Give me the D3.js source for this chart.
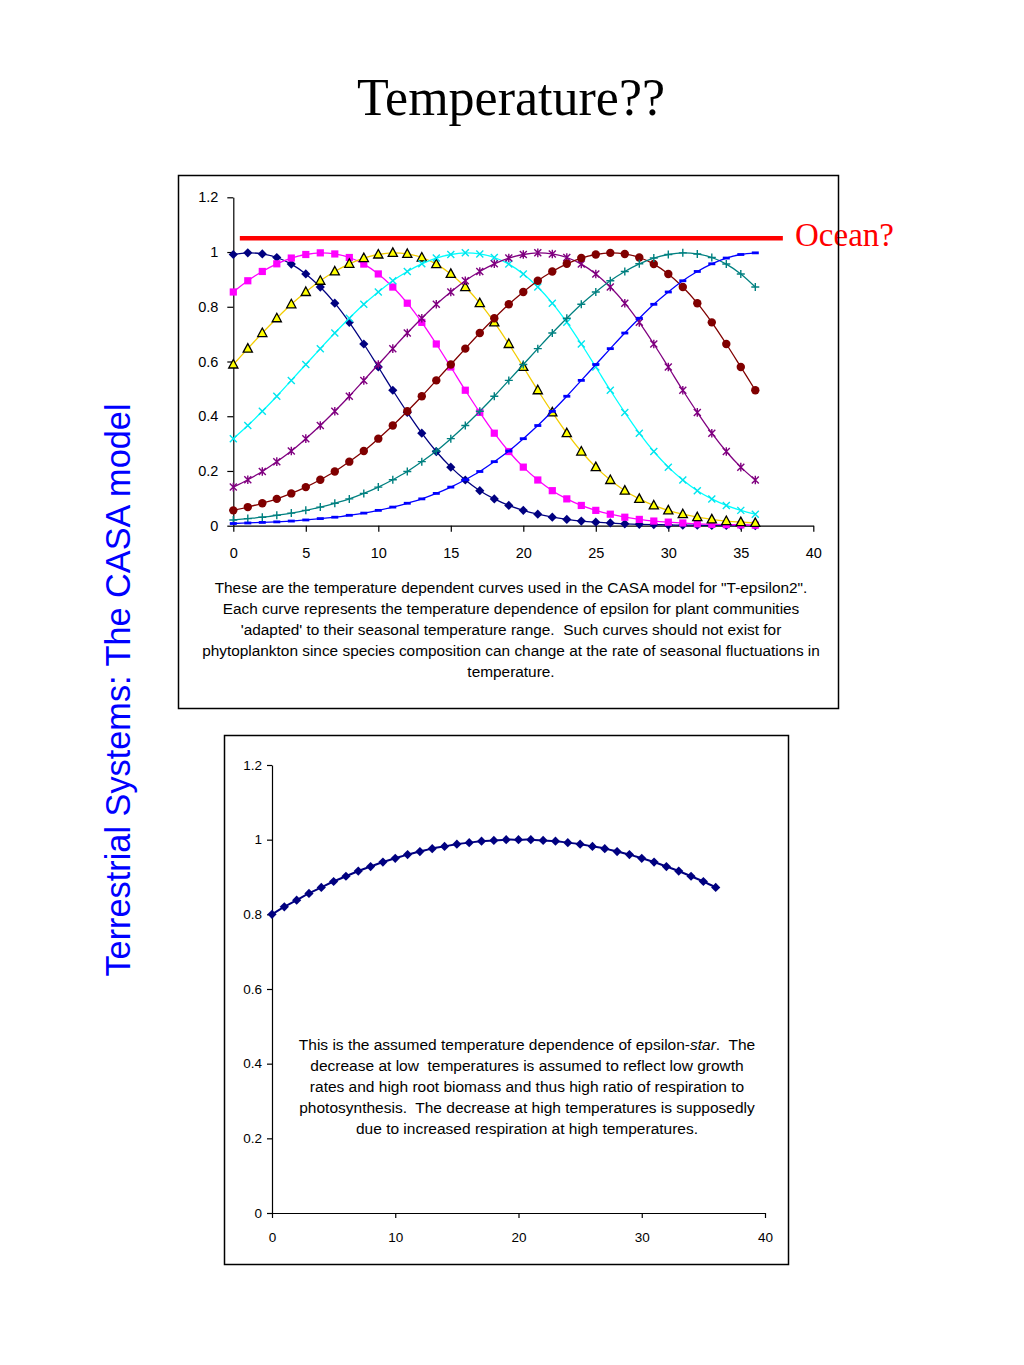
<!DOCTYPE html>
<html><head><meta charset="utf-8">
<script src="https://cdn.jsdelivr.net/npm/d3@7"></script>
<style>
body{margin:0;background:#fff}
svg{display:block}
text{white-space:pre}
</style></head>
<body>
<svg id="chart" width="1024" height="1365"></svg>
<script>
// ---------- DATA ----------
const temps = [0,1,2,3,4,5,6,7,8,9,10,11,12,13,14,15,16,17,18,19,20,21,22,23,24,25,26,27,28,29,30,31,32,33,34,35,36];
const seriesNames = ["Topt 0","Topt 5","Topt 10","Topt 15","Topt 20","Topt 25","Topt 30","Topt 35"];
const topt0  = [0.991,0.997,0.993,0.980,0.956,0.920,0.872,0.813,0.743,0.664,0.580,0.495,0.414,0.338,0.271,0.214,0.167,0.128,0.098,0.074,0.056,0.042,0.031,0.023,0.017,0.013,0.010,0.007,0.005,0.004,0.003,0.002,0.002,0.001,0.001,0.001,0.000];
const topt5  = [0.854,0.895,0.929,0.957,0.978,0.991,0.997,0.993,0.980,0.956,0.920,0.872,0.813,0.743,0.664,0.580,0.495,0.414,0.338,0.271,0.214,0.167,0.128,0.098,0.074,0.056,0.042,0.031,0.023,0.017,0.013,0.010,0.007,0.005,0.004,0.003,0.002];
const topt10 = [0.589,0.647,0.704,0.758,0.809,0.854,0.895,0.929,0.957,0.978,0.991,0.997,0.993,0.980,0.956,0.920,0.872,0.813,0.743,0.664,0.580,0.495,0.414,0.338,0.271,0.214,0.167,0.128,0.098,0.074,0.056,0.042,0.031,0.023,0.017,0.013,0.010];
const topt15 = [0.318,0.366,0.418,0.473,0.531,0.589,0.647,0.704,0.758,0.809,0.854,0.895,0.929,0.957,0.978,0.991,0.997,0.993,0.980,0.956,0.920,0.872,0.813,0.743,0.664,0.580,0.495,0.414,0.338,0.271,0.214,0.167,0.128,0.098,0.074,0.056,0.042];
const topt20 = [0.141,0.168,0.198,0.234,0.273,0.318,0.366,0.418,0.473,0.531,0.589,0.647,0.704,0.758,0.809,0.854,0.895,0.929,0.957,0.978,0.991,0.997,0.993,0.980,0.956,0.920,0.872,0.813,0.743,0.664,0.580,0.495,0.414,0.338,0.271,0.214,0.167];
const topt25 = [0.056,0.068,0.082,0.098,0.118,0.141,0.168,0.198,0.234,0.273,0.318,0.366,0.418,0.473,0.531,0.589,0.647,0.704,0.758,0.809,0.854,0.895,0.929,0.957,0.978,0.991,0.997,0.993,0.980,0.956,0.920,0.872,0.813,0.743,0.664,0.580,0.495];
const topt30 = [0.021,0.026,0.031,0.038,0.046,0.056,0.068,0.082,0.098,0.118,0.141,0.168,0.198,0.234,0.273,0.318,0.366,0.418,0.473,0.531,0.589,0.647,0.704,0.758,0.809,0.854,0.895,0.929,0.957,0.978,0.991,0.997,0.993,0.980,0.956,0.920,0.872];
const topt35 = [0.008,0.010,0.012,0.014,0.017,0.021,0.026,0.031,0.038,0.046,0.056,0.068,0.082,0.098,0.118,0.141,0.168,0.198,0.234,0.273,0.318,0.366,0.418,0.473,0.531,0.589,0.647,0.704,0.758,0.809,0.854,0.895,0.929,0.957,0.978,0.991,0.997];
const oceanX = [0.45, 37.9];
const oceanY = [1.05, 1.05];
const epsilonStar = [0.800,0.820,0.838,0.856,0.872,0.888,0.902,0.916,0.928,0.940,0.950,0.960,0.968,0.976,0.982,0.988,0.992,0.996,0.998,1.000,1.000,1.000,0.998,0.996,0.992,0.988,0.982,0.976,0.968,0.960,0.950,0.940,0.928,0.916,0.902,0.888,0.872];
const yTickValues = [0,0.2,0.4,0.6,0.8,1,1.2];
const yTickLabels = ["0","0.2","0.4","0.6","0.8","1","1.2"];
const xTicksTop = [0,5,10,15,20,25,30,35,40];
const xTicksBottom = [0,10,20,30,40];
const titleText = "Temperature??";
const sideText = "Terrestrial Systems: The CASA model";
const oceanLabel = "Ocean?";
const captionTop = [
  "These are the temperature dependent curves used in the CASA model for \"T-epsilon2\".",
  "Each curve represents the temperature dependence of epsilon for plant communities",
  "'adapted' to their seasonal temperature range.  Such curves should not exist for",
  "phytoplankton since species composition can change at the rate of seasonal fluctuations in",
  "temperature."
];
const captionBottom = [
  ["This is the assumed temperature dependence of epsilon-", "star", ".  The"],
  ["decrease at low  temperatures is assumed to reflect low growth"],
  ["rates and high root biomass and thus high ratio of respiration to"],
  ["photosynthesis.  The decrease at high temperatures is supposedly"],
  ["due to increased respiration at high temperatures."]
];

// ---------- DRAW ----------
const svg = d3.select("#chart");
const SANS = "'Liberation Sans', Arial, sans-serif";
const SERIF = "'Liberation Serif', 'Times New Roman', serif";

// title
svg.append("text").attr("x",511).attr("y",115).attr("text-anchor","middle")
  .attr("font-family",SERIF).attr("font-size",52).attr("fill","#000").text(titleText);

// side text
svg.append("text").attr("transform","translate(130,690) rotate(-90)")
  .attr("text-anchor","middle").attr("font-family",SANS).attr("font-size",34.3)
  .attr("fill","#0000ff").text(sideText);

// ---------- TOP CHART ----------
const boxTop = {x:178.5,y:175.5,w:660,h:533};
svg.append("rect").attr("x",boxTop.x).attr("y",boxTop.y).attr("width",boxTop.w).attr("height",boxTop.h).attr("fill","#fff");

const x1 = d3.scaleLinear().domain([0,40]).range([233.3,813.3]);
const y1 = d3.scaleLinear().domain([0,1.2]).range([525.7,197.3]);

const gT = svg.append("g");
const yAx1 = gT.append("g").attr("transform",`translate(${x1(0)},0)`)
  .call(d3.axisLeft(y1).tickValues(yTickValues).tickFormat((d,i)=>yTickLabels[i]).tickSize(6).tickPadding(9).tickSizeOuter(0));
const xAx1 = gT.append("g").attr("transform",`translate(0,${y1(0)})`)
  .call(d3.axisBottom(x1).tickValues(xTicksTop).tickFormat(d3.format("d")).tickSize(6).tickPadding(16).tickSizeOuter(0));
[yAx1,xAx1].forEach(a=>{
  a.selectAll("text").attr("font-family",SANS).attr("font-size",14.5).attr("fill","#000");
  a.selectAll("line,path").attr("stroke","#000").attr("stroke-width",1.2);
});

// ocean line
gT.append("path").datum(oceanX.map((v,i)=>[v,oceanY[i]]))
  .attr("d",d3.line().x(d=>x1(d[0])).y(d=>y1(d[1])))
  .attr("stroke","#ff0000").attr("stroke-width",4.5).attr("fill","none");

const seriesData = [topt0,topt5,topt10,topt15,topt20,topt25,topt30,topt35];
const styles = [
  {line:"#000080", marker:"diamond", fill:"#000080"},
  {line:"#ff00ff", marker:"square", fill:"#ff00ff"},
  {line:"#f2cc00", marker:"triangle", fill:"#ffff00"},
  {line:"#00ffff", marker:"x", fill:"#00e5ee"},
  {line:"#800080", marker:"star", fill:"#800080"},
  {line:"#800000", marker:"circle", fill:"#800000"},
  {line:"#008080", marker:"plus", fill:"#008080"},
  {line:"#0000ff", marker:"dash", fill:"#0000ff"}
];
const smooth = d3.line().curve(d3.curveCatmullRom.alpha(0.5));

function drawMarker(g, type, cx, cy, fill){
  if(type==="diamond"){
    g.append("path").attr("d",`M${cx},${cy-4.6}L${cx+4.6},${cy}L${cx},${cy+4.6}L${cx-4.6},${cy}Z`).attr("fill",fill);
  } else if(type==="square"){
    g.append("rect").attr("x",cx-3.6).attr("y",cy-3.6).attr("width",7.2).attr("height",7.2).attr("fill",fill);
  } else if(type==="triangle"){
    g.append("path").attr("d",`M${cx},${cy-5}L${cx+4.6},${cy+3.5}L${cx-4.6},${cy+3.5}Z`).attr("fill",fill).attr("stroke","#000").attr("stroke-width",1.3);
  } else if(type==="x"){
    g.append("path").attr("d",`M${cx-3.5},${cy-3.5}L${cx+3.5},${cy+3.5}M${cx+3.5},${cy-3.5}L${cx-3.5},${cy+3.5}`).attr("stroke",fill).attr("stroke-width",1.4);
  } else if(type==="star"){
    g.append("path").attr("d",`M${cx-3.5},${cy-3.5}L${cx+3.5},${cy+3.5}M${cx+3.5},${cy-3.5}L${cx-3.5},${cy+3.5}M${cx},${cy-4.3}L${cx},${cy+4.3}`).attr("stroke",fill).attr("stroke-width",1.4);
  } else if(type==="circle"){
    g.append("circle").attr("cx",cx).attr("cy",cy).attr("r",4.2).attr("fill",fill);
  } else if(type==="plus"){
    g.append("path").attr("d",`M${cx-4},${cy}L${cx+4},${cy}M${cx},${cy-4}L${cx},${cy+4}`).attr("stroke",fill).attr("stroke-width",1.4);
  } else if(type==="dash"){
    g.append("rect").attr("x",cx-3.5).attr("y",cy-1.4).attr("width",7).attr("height",2.8).attr("fill",fill);
  }
}

seriesData.forEach((vals,si)=>{
  const st = styles[si];
  const g = gT.append("g").attr("class","series").attr("data-name",seriesNames[si]);
  g.append("path").attr("d",smooth(vals.map((v,i)=>[x1(temps[i]),y1(v)])))
    .attr("fill","none").attr("stroke",st.line).attr("stroke-width",1.3);
  vals.forEach((v,i)=>drawMarker(g, st.marker, x1(temps[i]), y1(v), st.fill));
});

// caption top
captionTop.forEach((line,i)=>{
  svg.append("text").attr("x",511).attr("y",593+i*21).attr("text-anchor","middle")
    .attr("font-family",SANS).attr("font-size",15.4).attr("fill","#000").text(line);
});

// Ocean label
svg.append("text").attr("x",795).attr("y",246).attr("font-family",SERIF).attr("font-size",33)
  .attr("fill","#ff0000").text(oceanLabel);

svg.append("rect").attr("x",boxTop.x).attr("y",boxTop.y).attr("width",boxTop.w).attr("height",boxTop.h)
  .attr("fill","none").attr("stroke","#000").attr("stroke-width",1.5);

// ---------- BOTTOM CHART ----------
const boxB = {x:224.5,y:735.5,w:564,h:529};
svg.append("rect").attr("x",boxB.x).attr("y",boxB.y).attr("width",boxB.w).attr("height",boxB.h)
  .attr("fill","#fff").attr("stroke","#000").attr("stroke-width",1.5);

const x2 = d3.scaleLinear().domain([0,40]).range([272,765]);
const y2 = d3.scaleLinear().domain([0,1.2]).range([1213,765]);
const gB = svg.append("g");
const yAx2 = gB.append("g").attr("transform",`translate(${x2(0)},0)`)
  .call(d3.axisLeft(y2).tickValues(yTickValues).tickFormat((d,i)=>yTickLabels[i]).tickSize(5).tickPadding(5).tickSizeOuter(0));
const xAx2 = gB.append("g").attr("transform",`translate(0,${y2(0)})`)
  .call(d3.axisBottom(x2).tickValues(xTicksBottom).tickFormat(d3.format("d")).tickSize(5).tickPadding(14).tickSizeOuter(0));
[yAx2,xAx2].forEach(a=>{
  a.selectAll("text").attr("font-family",SANS).attr("font-size",13.5).attr("fill","#000");
  a.selectAll("line,path").attr("stroke","#000").attr("stroke-width",1.2);
});

const gS = gB.append("g").attr("class","series").attr("data-name","epsilon-star");
gS.append("path").attr("d",smooth(epsilonStar.map((v,i)=>[x2(temps[i]),y2(v)])))
  .attr("fill","none").attr("stroke","#000080").attr("stroke-width",2);
epsilonStar.forEach((v,i)=>drawMarker(gS,"diamond",x2(temps[i]),y2(v),"#000080"));

// caption bottom
captionBottom.forEach((parts,i)=>{
  const t = svg.append("text").attr("x",527).attr("y",1050+i*21).attr("text-anchor","middle")
    .attr("font-family",SANS).attr("font-size",15.5).attr("fill","#000");
  parts.forEach((p,j)=>{
    const ts = t.append("tspan").text(p);
    if(i===0 && j===1) ts.attr("font-style","italic");
  });
});
</script>
</body></html>
